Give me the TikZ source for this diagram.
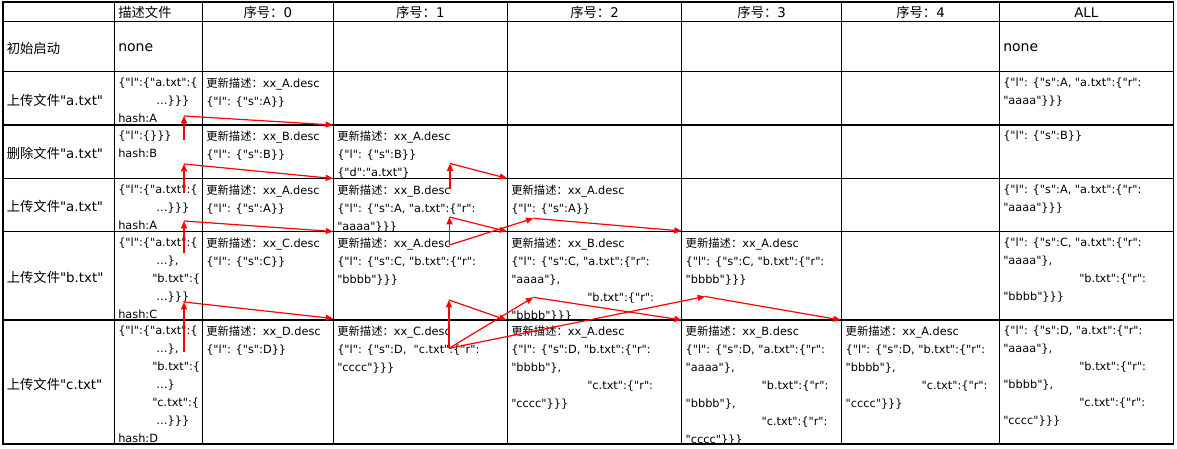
\documentclass[tikz,border=0pt]{standalone}
\usepackage{fontspec}
\setmainfont{DejaVu Sans}[Ligatures=TeXOff]
\newfontfamily\cjk{Noto Sans CJK SC}
\usetikzlibrary{arrows.meta}

\newcommand{\zh}[1]{{\cjk #1}}
\newcommand{\cellfont}{\fontsize{8.5}{13.5}\selectfont}
\newcommand{\labfont}{\fontsize{10}{12}\selectfont}

\begin{document}
\begin{tikzpicture}[x=0.75pt,y=-0.75pt,
	grid/.style={line width=0.8pt,black},
	cell/.style={anchor=north west,inner sep=0pt,align=left,font=\cellfont},
	lab/.style={anchor=west,inner sep=0pt,font=\labfont},
	head/.style={inner sep=0pt,font=\labfont},
	big/.style={anchor=base west,inner sep=0pt,font=\fontsize{10.5}{12}\selectfont},
	arr/.style={red,line width=0.9pt,-{Triangle[length=5.5pt,width=4.5pt]}}]
	
	\useasboundingbox (0,0) rectangle (1177,449);
	
	% table
	\draw[grid] (3,2) rectangle (1173.3,444);
	\draw[grid] (3,21.7) -- (1173.3,21.7) (3,71.7) -- (1173.3,71.7)
		(3,125) -- (1173.3,125) (3,178.3) -- (1173.3,178.3)
		(3,231.3) -- (1173.3,231.3) (3,320) -- (1173.3,320);
	\draw[grid] (114.3,2) -- (114.3,444) (202.3,2) -- (202.3,444)
		(333.3,2) -- (333.3,444) (507.3,2) -- (507.3,444)
		(681.7,2) -- (681.7,444) (841.7,2) -- (841.7,444)
		(999.3,2) -- (999.3,444);
	
	% header
	\node[head,anchor=west] (hD) at (118,12.5) {\zh{描述文件}};
	\node[head] (h0) at (267.8,12.5) {\zh{序号：}0};
	\node[head] (h1) at (420.3,12.5) {\zh{序号：}1};
	\node[head] (h2) at (594.5,12.5) {\zh{序号：}2};
	\node[head] (h3) at (761.7,12.5) {\zh{序号：}3};
	\node[head] (h4) at (920.5,12.5) {\zh{序号：}4};
	\node[head] (hA) at (1086.3,12.5) {ALL};
	
	% steps
	\node[lab] (l1) at (6.5,48) {\zh{初始启动}};
	\node[lab] (l2) at (6.5,100) {\zh{上传文件}"a.txt"};
	\node[lab] (l3) at (6.5,153) {\zh{删除文件}"a.txt"};
	\node[lab] (l4) at (6.5,206) {\zh{上传文件}"a.txt"};
	\node[lab] (l5) at (6.5,277) {\zh{上传文件}"b.txt"};
	\node[lab] (l6) at (6.5,384) {\zh{上传文件}"c.txt"};
	
	% row 1
	\node[big] (d1) at (118,52) {none};
	\node[big] (a1) at (1003,52) {none};
	
	% row 2
	\node[cell] (d2) at (118,77.7) {\{"l":\{"a.txt":\{\\\hspace*{28.5pt}…\}\}\}\\hash:A};
	\node[cell] (s02) at (206,77.7) {\zh{更新描述：}xx\_A.desc\\\{"l": \{"s":A\}\}};
	\node[cell] (a2) at (1003,77.7) {\{"l": \{"s":A, "a.txt":\{"r":\\"aaaa"\}\}\}};
	
	% row 3
	\node[cell] (d3) at (118,131) {\{"l":\{\}\}\}\\hash:B};
	\node[cell] (s03) at (206,131) {\zh{更新描述：}xx\_B.desc\\\{"l": \{"s":B\}\}};
	\node[cell] (s13) at (337,131) {\zh{更新描述：}xx\_A.desc\\\{"l": \{"s":B\}\}\\\{"d":"a.txt"\}};
	\node[cell] (a3) at (1003,131) {\{"l": \{"s":B\}\}};
	
	% row 4
	\node[cell] (d4) at (118,184.3) {\{"l":\{"a.txt":\{\\\hspace*{28.5pt}…\}\}\}\\hash:A};
	\node[cell] (s04) at (206,184.3) {\zh{更新描述：}xx\_A.desc\\\{"l": \{"s":A\}\}};
	\node[cell] (s14) at (337,184.3) {\zh{更新描述：}xx\_B.desc\\\{"l": \{"s":A, "a.txt":\{"r":\\"aaaa"\}\}\}};
	\node[cell] (s24) at (511,184.3) {\zh{更新描述：}xx\_A.desc\\\{"l": \{"s":A\}\}};
	\node[cell] (a4) at (1003,184.3) {\{"l": \{"s":A, "a.txt":\{"r":\\"aaaa"\}\}\}};
	
	% row 5
	\node[cell] (d5) at (118,237.3) {\{"l":\{"a.txt":\{\\\hspace*{28.5pt}…\},\\\hspace*{25.5pt}"b.txt":\{\\\hspace*{28.5pt}…\}\}\}\\hash:C};
	\node[cell] (s05) at (206,237.3) {\zh{更新描述：}xx\_C.desc\\\{"l": \{"s":C\}\}};
	\node[cell] (s15) at (337,237.3) {\zh{更新描述：}xx\_A.desc\\\{"l": \{"s":C, "b.txt":\{"r":\\"bbbb"\}\}\}};
	\node[cell] (s25) at (511,237.3) {\zh{更新描述：}xx\_B.desc\\\{"l": \{"s":C, "a.txt":\{"r":\\"aaaa"\},\\\hspace*{57pt}"b.txt":\{"r":\\"bbbb"\}\}\}};
	\node[cell] (s35) at (685.4,237.3) {\zh{更新描述：}xx\_A.desc\\\{"l": \{"s":C, "b.txt":\{"r":\\"bbbb"\}\}\}};
	\node[cell] (a5) at (1003,237.3) {\{"l": \{"s":C, "a.txt":\{"r":\\"aaaa"\},\\\hspace*{57pt}"b.txt":\{"r":\\"bbbb"\}\}\}};
	
	% row 6
	\node[cell] (d6) at (118,326) {\{"l":\{"a.txt":\{\\\hspace*{28.5pt}…\},\\\hspace*{25.5pt}"b.txt":\{\\\hspace*{28.5pt}…\}\\\hspace*{25.5pt}"c.txt":\{\\\hspace*{28.5pt}…\}\}\}\\hash:D};
	\node[cell] (s06) at (206,326) {\zh{更新描述：}xx\_D.desc\\\{"l": \{"s":D\}\}};
	\node[cell] (s16) at (337,326) {\zh{更新描述：}xx\_C.desc\\\{"l": \{"s":D,\ \ "c.txt":\{"r":\\"cccc"\}\}\}};
	\node[cell] (s26) at (511,326) {\zh{更新描述：}xx\_A.desc\\\{"l": \{"s":D, "b.txt":\{"r":\\"bbbb"\},\\\hspace*{57pt}"c.txt":\{"r":\\"cccc"\}\}\}};
	\node[cell] (s36) at (685.4,326) {\zh{更新描述：}xx\_B.desc\\\{"l": \{"s":D, "a.txt":\{"r":\\"aaaa"\},\\\hspace*{57pt}"b.txt":\{"r":\\"bbbb"\},\\\hspace*{57pt}"c.txt":\{"r":\\"cccc"\}\}\}};
	\node[cell] (s46) at (845.4,326) {\zh{更新描述：}xx\_A.desc\\\{"l": \{"s":D, "b.txt":\{"r":\\"bbbb"\},\\\hspace*{57pt}"c.txt":\{"r":\\"cccc"\}\}\}};
	\node[cell] (a6) at (1003,326) {\{"l": \{"s":D, "a.txt":\{"r":\\"aaaa"\},\\\hspace*{57pt}"b.txt":\{"r":\\"bbbb"\},\\\hspace*{57pt}"c.txt":\{"r":\\"cccc"\}\}\}};
	
	% arrow points
	\coordinate (p1) at (184,140);
	\coordinate (q1) at (184,116);
	\coordinate (t1) at (333,125);
	\coordinate (p2) at (184,193);
	\coordinate (q2) at (184,164);
	\coordinate (t2) at (333,178.5);
	\coordinate (p3) at (184,253);
	\coordinate (q3) at (184,221);
	\coordinate (t3) at (333,231.5);
	\coordinate (p4) at (184,352);
	\coordinate (q4) at (184,302);
	\coordinate (t4) at (333,318.5);
	\coordinate (p5) at (450,189);
	\coordinate (q5) at (450,163.5);
	\coordinate (t5) at (507,178.3);
	\coordinate (p6) at (449.5,245);
	\coordinate (q6) at (449.5,217);
	\coordinate (t6) at (507,231.5);
	\coordinate (m6) at (533.3,218.3);
	\coordinate (u6) at (681.7,231);
	\coordinate (p7) at (449,348.3);
	\coordinate (q7) at (449,300);
	\coordinate (t7) at (506.5,320);
	\coordinate (m7) at (533.3,297.3);
	\coordinate (u7) at (681.7,320);
	\coordinate (n7) at (705,296.5);
	\coordinate (v7) at (840.7,320);
	
	\path[arr] (p1) edge (q1) (q1) edge (t1);
	\path[arr] (p2) edge (q2) (q2) edge (t2);
	\path[arr] (p3) edge (q3) (q3) edge (t3);
	\path[arr] (p4) edge (q4) (q4) edge (t4);
	\path[arr] (p5) edge (q5) (q5) edge (t5);
	\path[arr] (p6) edge (q6) (q6) edge (t6);
	\path[arr] (p6) edge (m6) (m6) edge (u6);
	\path[arr] (p7) edge (q7) (q7) edge (t7);
	\path[arr] (p7) edge (m7) (m7) edge (u7);
	\path[arr] (p7) edge (n7) (n7) edge (v7);
\end{tikzpicture}
\end{document}
